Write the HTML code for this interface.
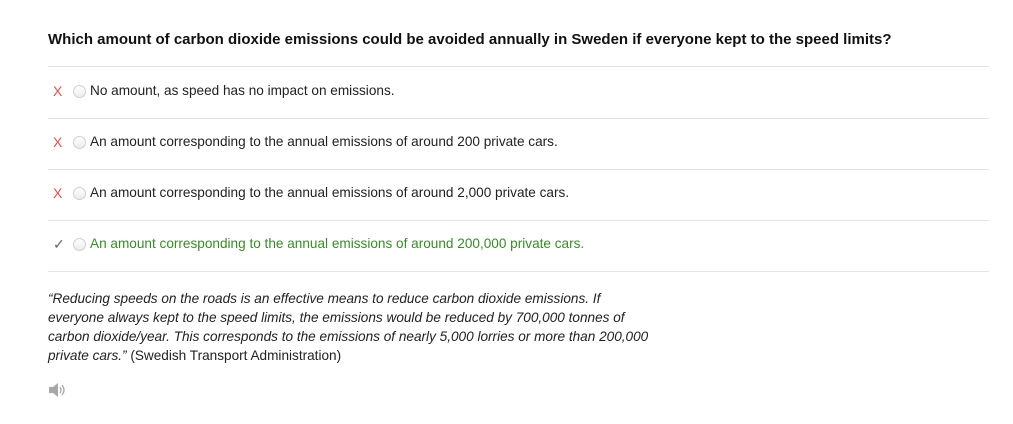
<!DOCTYPE html>
<html><head><meta charset="utf-8"><style>
body{margin:0;width:1013px;height:424px;background:#fff;font-family:"Liberation Sans",Arial,sans-serif;color:#222;position:relative;overflow:hidden}
.t{position:absolute;left:48px;top:31px;font-size:15px;font-weight:bold;color:#111;white-space:nowrap}
.sep{position:absolute;left:48px;width:941px;height:1px;background:#e3e3e3}
.opt{position:absolute;left:48px;width:941px;height:20px;font-size:13.6px;line-height:20px}
.mk{position:absolute;left:5px;top:0;font-size:14px}
.rd{position:absolute;left:25px;top:4px;width:11px;height:11px;border-radius:50%;border:1px solid #cfcfcf;background:linear-gradient(#fff,#ececec)}
.tx{position:absolute;left:42px;top:0;white-space:nowrap}
.q{position:absolute;left:48px;top:289px;width:700px;font-size:13.6px;line-height:19px;color:#222;white-space:nowrap}
.q i{font-style:italic}
</style></head><body>
<div class="t">Which amount of carbon dioxide emissions could be avoided annually in Sweden if everyone kept to the speed limits?</div>
<div class="sep" style="top:66px"></div>
<div class="opt" style="top:81px"><span class="mk" style="color:#d9534f">X</span><span class="rd"></span><span class="tx">No amount, as speed has no impact on emissions.</span></div>
<div class="sep" style="top:118px"></div>
<div class="opt" style="top:132px"><span class="mk" style="color:#d9534f">X</span><span class="rd"></span><span class="tx">An amount corresponding to the annual emissions of around 200 private cars.</span></div>
<div class="sep" style="top:169px"></div>
<div class="opt" style="top:183px"><span class="mk" style="color:#d9534f">X</span><span class="rd"></span><span class="tx">An amount corresponding to the annual emissions of around 2,000 private cars.</span></div>
<div class="sep" style="top:220px"></div>
<div class="opt" style="top:234px;color:#3a8a2a"><span class="mk" style="color:#666">✓</span><span class="rd"></span><span class="tx">An amount corresponding to the annual emissions of around 200,000 private cars.</span></div>
<div class="sep" style="top:271px"></div>
<div class="q"><i>“Reducing speeds on the roads is an effective means to reduce carbon dioxide emissions. If<br>everyone always kept to the speed limits, the emissions would be reduced by 700,000 tonnes of<br>carbon dioxide/year. This corresponds to the emissions of nearly 5,000 lorries or more than 200,000<br>private cars.”</i> (Swedish Transport Administration)</div>
<svg style="position:absolute;left:48px;top:382px" width="20" height="16"><path d="M1 5h4l5-4v14l-5-4H1z" fill="#a8a8a8"/><path d="M12 5q2 3 0 6M14 3q4 5 0 10" stroke="#a8a8a8" stroke-width="1.3" fill="none"/></svg>
</body></html>
